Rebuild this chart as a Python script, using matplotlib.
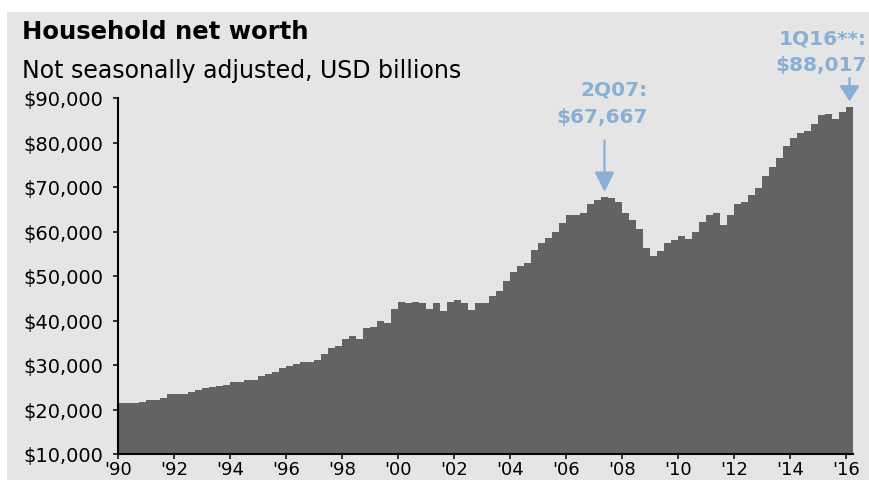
import matplotlib
matplotlib.use("Agg")
import matplotlib.pyplot as plt
from matplotlib.patches import Rectangle
import numpy as np

# Household net worth, quarterly, 1Q90 - 1Q16 (USD billions), one year per row
net_worth = [
    21460, 21460, 21500, 21760,   # 1990
    22200, 22200, 22650, 23400,   # 1991
    23400, 23400, 23860, 24300,   # 1992
    24750, 25060, 25200, 25500,   # 1993
    26250, 26250, 26700, 26700,   # 1994
    27450, 27900, 28350, 29400,   # 1995
    29850, 30200, 30600, 30600,   # 1996
    31050, 32550, 33740, 34200,   # 1997
    35840, 36600, 35840, 38240,   # 1998
    38600, 39800, 39440, 42580,   # 1999
    44230, 43860, 44230, 43860,   # 2000
    42580, 43860, 42200, 44230,   # 2001
    44600, 43860, 42300, 43860,   # 2002
    43860, 45400, 46550, 48950,   # 2003
    50970, 52170, 52990, 55840,   # 2004
    57420, 58620, 59820, 61840,   # 2005
    63780, 63780, 64230, 66180,   # 2006
    67000, 67667, 67550, 66560,   # 2007
    64200, 62580, 60560, 56220,   # 2008
    54500, 55690, 57420, 58170,   # 2009
    58990, 58240, 59820, 62210,   # 2010
    63780, 64160, 61390, 63780,   # 2011
    66110, 66560, 68200, 69780,   # 2012
    72550, 74570, 76590, 79290,   # 2013
    80940, 82200, 82580, 84160,   # 2014
    86180, 86480, 85350, 86920,   # 2015
    88017,                        # 2016
]
first_year = 1990

year_ticks = [1990, 1992, 1994, 1996, 1998, 2000, 2002, 2004,
              2006, 2008, 2010, 2012, 2014, 2016]
year_labels = ["'90", "'92", "'94", "'96", "'98", "'00", "'02", "'04",
               "'06", "'08", "'10", "'12", "'14", "'16"]
value_ticks = [10000, 20000, 30000, 40000, 50000, 60000, 70000, 80000, 90000]

# annotated quarters: (index into net_worth, label line 1)
peak_idx, peak_label = 29 + 40, "2Q07:"
last_idx, last_label = len(net_worth) - 1, "1Q16**:"

BG = "#e5e5e5"
BAR = "#636363"
NOTE = "#88afd4"
W, H = 870, 481

fig = plt.figure(figsize=(W / 100, H / 100), dpi=100)
fig.patch.set_facecolor("white")
fig.patches.append(Rectangle((7 / W, 0), 1 - 7 / W, 1 - 13 / H,
                             transform=fig.transFigure, facecolor=BG,
                             edgecolor="none", zorder=-1))

ax = fig.add_axes([118 / W, 1 - 455 / H, (853 - 118) / W, (455 - 99) / H])
ax.set_facecolor(BG)

quarters = first_year + np.arange(len(net_worth)) / 4
ax.bar(quarters, net_worth, width=0.25, align="edge", color=BAR, linewidth=0)

ax.set_xlim(first_year, first_year + len(net_worth) / 4)
ax.set_ylim(value_ticks[0], value_ticks[-1])
ax.set_xticks(year_ticks)
ax.set_xticklabels(year_labels)
ax.set_yticks(value_ticks)
ax.set_yticklabels([f"${v:,}" for v in value_ticks])

for side in ["top", "right"]:
    ax.spines[side].set_visible(False)
for side in ["left", "bottom"]:
    ax.spines[side].set_linewidth(1.5)
    ax.spines[side].set_color("black")
ax.tick_params(direction="out", length=3.5, width=1.1, labelsize=14,
               colors="black")
ax.tick_params(axis="y", pad=7)
# the reference crops the year labels at the bottom edge; keep them just inside
ax.tick_params(axis="x", pad=0.5, labelsize=13)

# title block
fig.text(22 / W, 1 - 39 / H, "Household net worth", fontsize=17.5,
         fontweight="bold", va="baseline", ha="left")
fig.text(22 / W, 1 - 78 / H, "Not seasonally adjusted, USD billions",
         fontsize=17, va="baseline", ha="left")

# arrows down to the labelled bars
for idx, length, head in [(peak_idx, 57, 1.1), (last_idx, 29, 0.85)]:
    x = quarters[idx] + 0.125
    ax.annotate("", xy=(x, net_worth[idx]), xytext=(0, length),
                textcoords="offset pixels",
                arrowprops=dict(arrowstyle=f"-|>,head_length={head},head_width=0.55",
                                color=NOTE, lw=1.6, mutation_scale=11,
                                shrinkA=0, shrinkB=4),
                annotation_clip=False)

# annotation labels
for label, idx, right, base1, base2 in [
        (peak_label, peak_idx, 648, 95, 123),
        (last_label, last_idx, 867, 45, 71)]:
    fig.text(right / W, 1 - base1 / H, label, color=NOTE, fontsize=14.5,
             fontweight="bold", ha="right", va="baseline")
    fig.text(right / W, 1 - base2 / H, f"${net_worth[idx]:,}", color=NOTE,
             fontsize=14.5, fontweight="bold", ha="right", va="baseline")

fig.savefig("out.png", dpi=100, facecolor=fig.get_facecolor())
